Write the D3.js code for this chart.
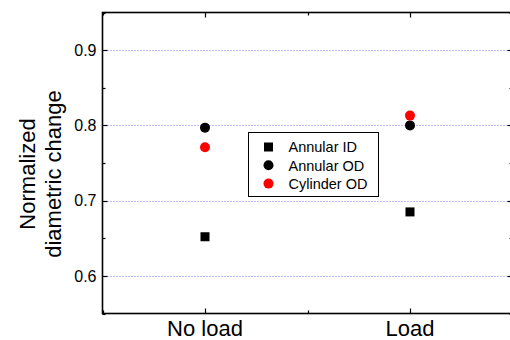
<!DOCTYPE html>
<html>
<head>
<meta charset="utf-8">
<script src="https://cdn.jsdelivr.net/npm/d3@7"></script>
<style>
  body { margin: 0; background: #fff; }
  svg { display: block; font-family: "Liberation Sans", Arial, sans-serif; }
</style>
</head>
<body>
<div class="graph"></div>
<script>
// data
var categories = ["No load", "Load"];
var annularID = [0.652, 0.685];
var annularOD = [0.797, 0.800];
var cylinderOD = [0.771, 0.813];
var yTicks = [0.6, 0.7, 0.8, 0.9];

var series = [
  { name: "Annular ID", values: annularID, shape: "square", color: "#000" },
  { name: "Annular OD", values: annularOD, shape: "circle", color: "#000" },
  { name: "Cylinder OD", values: cylinderOD, shape: "circle", color: "#ff0000" }
];

var width = 510, height = 340;
// plot frame (note: "top" is a window global, so use other names)
var plotL = 102.5, plotR = 512.5, plotT = 12.5, plotB = 313.5;

var svg = d3.select(".graph").append("svg")
  .attr("width", width)
  .attr("height", height);

var x = d3.scaleLinear().domain([0.5, categories.length + 0.5]).range([plotL, plotR]);
var y = d3.scaleLinear().domain([0.55, 0.95]).range([plotB, plotT]);

// grid
svg.append("g")
  .selectAll("line")
  .data(yTicks)
  .enter().append("line")
  .attr("x1", plotL + 2)
  .attr("x2", plotR - 4)
  .attr("y1", function (d) { return Math.round(y(d)) + 0.5; })
  .attr("y2", function (d) { return Math.round(y(d)) + 0.5; })
  .attr("stroke", "#7a7af5")
  .attr("stroke-width", 1)
  .attr("stroke-dasharray", "1,2");

// frame
svg.append("rect")
  .attr("x", plotL).attr("y", plotT)
  .attr("width", plotR - plotL).attr("height", plotB - plotT)
  .attr("fill", "none")
  .attr("stroke", "#000")
  .attr("stroke-width", 1.6);

var yMinor = d3.range(0.55, 0.951, 0.05).map(function (d) { return +d.toFixed(2); });
var xMinor = d3.range(0.5, categories.length + 0.51, 0.5);

// ticks, all pointing inward
var tk = svg.append("g").attr("stroke", "#000").attr("stroke-width", 1.2);
yMinor.forEach(function (v) {
  var major = yTicks.indexOf(v) >= 0;
  var len = major ? 5 : 3;
  var py = Math.round(y(v)) + 0.5;
  tk.append("line").attr("x1", plotL).attr("x2", plotL + len).attr("y1", py).attr("y2", py);
  tk.append("line").attr("x1", plotR).attr("x2", plotR - len).attr("y1", py).attr("y2", py);
});
xMinor.forEach(function (v) {
  var major = Number.isInteger(v);
  var len = major ? 5 : 3;
  var px = Math.round(x(v)) + 0.5;
  tk.append("line").attr("x1", px).attr("x2", px).attr("y1", plotB).attr("y2", plotB - len);
  tk.append("line").attr("x1", px).attr("x2", px).attr("y1", plotT).attr("y2", plotT + len);
});

// y tick labels
svg.append("g")
  .selectAll("text")
  .data(yTicks)
  .enter().append("text")
  .attr("x", plotL - 6)
  .attr("y", function (d) { return y(d); })
  .attr("dy", "0.36em")
  .attr("text-anchor", "end")
  .style("font-size", "16px")
  .text(function (d) { return d.toFixed(1); });

// x labels
svg.append("g")
  .selectAll("text")
  .data(categories)
  .enter().append("text")
  .attr("x", function (d, i) { return x(i + 1); })
  .attr("y", 336)
  .attr("text-anchor", "middle")
  .style("font-size", "22px")
  .text(function (d) { return d; });

// y axis title
var yt = svg.append("text")
  .attr("transform", "translate(35,174) rotate(-90)")
  .attr("text-anchor", "middle")
  .style("font-size", "22px");
yt.append("tspan").attr("x", 0).attr("dy", 0).text("Normalized");
yt.append("tspan").attr("x", 0).attr("dy", 26).text("diametric change");

function drawMarker(g, shape, cx, cy, color) {
  if (shape === "square") {
    g.append("rect")
      .attr("x", cx - 4.5).attr("y", cy - 4.5)
      .attr("width", 9).attr("height", 9)
      .attr("fill", color);
  } else {
    g.append("circle")
      .attr("cx", cx).attr("cy", cy).attr("r", 5)
      .attr("fill", color);
  }
}

// points
var pts = svg.append("g");
series.forEach(function (s) {
  s.values.forEach(function (v, i) {
    drawMarker(pts, s.shape, x(i + 1), y(v), s.color);
  });
});

// legend
var lg = svg.append("g").attr("transform", "translate(248.5,132.5)");
lg.append("rect")
  .attr("width", 130).attr("height", 64)
  .attr("fill", "#fff")
  .attr("stroke", "#000")
  .attr("stroke-width", 1);
series.forEach(function (s, i) {
  var ly = 14.5 + i * 18.3;
  drawMarker(lg, s.shape, 20, ly, s.color);
  lg.append("text")
    .attr("x", 40).attr("y", ly)
    .attr("dy", "0.36em")
    .style("font-size", "14.5px")
    .text(s.name);
});
</script>
</body>
</html>
